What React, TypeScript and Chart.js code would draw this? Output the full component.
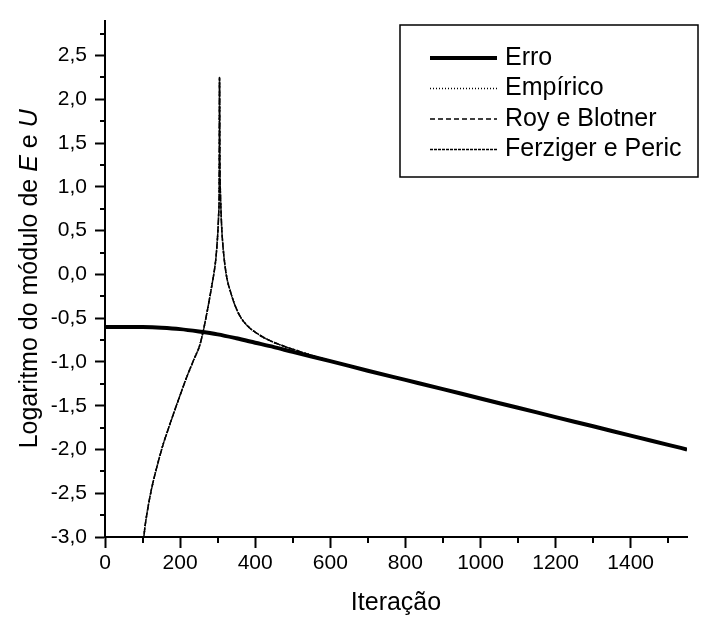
import React, { useEffect, useRef } from "react";
import { Chart, registerables } from "chart.js";

Chart.register(...registerables);

// ---------- data ----------
const erroX = [0, 50, 100, 150, 200, 250, 300, 350, 400, 450, 500, 600, 700, 800, 900, 1000, 1100, 1200, 1300, 1400, 1500, 1550];
const erroY = [-0.6, -0.6, -0.602, -0.61, -0.625, -0.652, -0.685, -0.73, -0.78, -0.83, -0.885, -0.99, -1.1, -1.205, -1.31, -1.418, -1.523, -1.63, -1.735, -1.842, -1.947, -2.0];

const estX = [100, 106, 115, 124, 140, 155, 169, 185, 200, 218, 235, 253, 262, 270, 277, 284, 290, 295, 298, 301, 303, 304, 305, 306, 307, 309, 311, 314, 319, 325, 333, 345, 360, 380, 400, 431, 470, 511, 550, 600, 650, 700, 800, 900, 1000, 1100, 1200, 1300, 1400, 1500, 1550];
const empiricoY = [-3.15, -2.9, -2.65, -2.45, -2.17, -1.94, -1.76, -1.56, -1.38, -1.17, -0.99, -0.8, -0.64, -0.47, -0.31, -0.14, 0.01, 0.17, 0.32, 0.52, 0.72, 0.9, 2.25, 1.3, 1.0, 0.72, 0.52, 0.33, 0.12, -0.05, -0.18, -0.34, -0.48, -0.59, -0.66, -0.74, -0.81, -0.87, -0.925, -0.985, -1.045, -1.1, -1.205, -1.31, -1.418, -1.523, -1.63, -1.735, -1.842, -1.947, -2.0];
const royY = [-3.15, -2.9, -2.65, -2.45, -2.17, -1.94, -1.76, -1.56, -1.38, -1.17, -0.99, -0.8, -0.64, -0.47, -0.31, -0.14, 0.01, 0.17, 0.32, 0.52, 0.72, 0.9, 2.25, 1.3, 1.0, 0.72, 0.52, 0.33, 0.12, -0.05, -0.18, -0.34, -0.48, -0.59, -0.66, -0.74, -0.81, -0.87, -0.925, -0.985, -1.045, -1.1, -1.205, -1.31, -1.418, -1.523, -1.63, -1.735, -1.842, -1.947, -2.0];
const ferzigerY = [-3.15, -2.9, -2.65, -2.45, -2.17, -1.94, -1.76, -1.56, -1.38, -1.17, -0.99, -0.8, -0.64, -0.47, -0.31, -0.14, 0.01, 0.17, 0.32, 0.52, 0.72, 0.9, 2.25, 1.3, 1.0, 0.72, 0.52, 0.33, 0.12, -0.05, -0.18, -0.34, -0.48, -0.59, -0.66, -0.74, -0.81, -0.87, -0.925, -0.985, -1.045, -1.1, -1.205, -1.31, -1.418, -1.523, -1.63, -1.735, -1.842, -1.947, -2.0];

const seriesLabels = ["Erro", "Empírico", "Roy e Blotner", "Ferziger e Peric"];

const xTicks = [0, 200, 400, 600, 800, 1000, 1200, 1400];
const xMinorTicks = [100, 300, 500, 700, 900, 1100, 1300, 1500];
const yTicks = [-3.0, -2.5, -2.0, -1.5, -1.0, -0.5, 0.0, 0.5, 1.0, 1.5, 2.0, 2.5];
const yMinorTicks = [-2.75, -2.25, -1.75, -1.25, -0.75, -0.25, 0.25, 0.75, 1.25, 1.75, 2.25, 2.75];

const xMin = 0;
const xMax = 1550;
const yMin = -3.0;
const yMax = 2.9;

const FONT = "'Liberation Sans', Arial, sans-serif";

const toPts = (xs: number[], ys: number[]) => xs.map((x, i) => ({ x, y: ys[i] }));

const minorTickPlugin = {
  id: "minorTicks",
  afterDraw(chart: any) {
    const ctx = chart.ctx;
    const xs = chart.scales.x;
    const ys = chart.scales.y;
    ctx.save();
    ctx.strokeStyle = "#000";
    ctx.lineWidth = 2;
    ctx.beginPath();
    xMinorTicks.forEach((v) => {
      const px = Math.round(xs.getPixelForValue(v));
      ctx.moveTo(px, xs.top);
      ctx.lineTo(px, xs.top + 6);
    });
    yMinorTicks.forEach((v) => {
      const py = Math.round(ys.getPixelForValue(v));
      ctx.moveTo(ys.right, py);
      ctx.lineTo(ys.right - 5, py);
    });
    ctx.stroke();
    ctx.restore();
  },
};

const titlePlugin = {
  id: "axisTitles",
  afterDraw(chart: any) {
    const ctx = chart.ctx;
    const area = chart.chartArea;
    ctx.save();
    ctx.fillStyle = "#000";
    ctx.textBaseline = "middle";
    // x title
    ctx.font = `25px ${FONT}`;
    ctx.textAlign = "center";
    ctx.fillText("Iteração", (area.left + area.right) / 2, 603);
    // y title with italic parts
    const parts = [
      { t: "Logaritmo do módulo de ", it: false },
      { t: "E", it: true },
      { t: " e ", it: false },
      { t: "U", it: true },
    ];
    const fontFor = (it: boolean) => `${it ? "italic " : ""}25px ${FONT}`;
    let total = 0;
    parts.forEach((p) => {
      ctx.font = fontFor(p.it);
      total += ctx.measureText(p.t).width;
    });
    ctx.translate(30, (area.top + area.bottom) / 2);
    ctx.rotate(-Math.PI / 2);
    ctx.textAlign = "left";
    let x = -total / 2;
    parts.forEach((p) => {
      ctx.font = fontFor(p.it);
      ctx.fillText(p.t, x, 0);
      x += ctx.measureText(p.t).width;
    });
    ctx.restore();
  },
};

const legendPlugin = {
  id: "boxLegend",
  afterDraw(chart: any) {
    const ctx = chart.ctx;
    const bx = 400, by = 25, bw = 298, bh = 152;
    ctx.save();
    ctx.fillStyle = "#fff";
    ctx.fillRect(bx, by, bw, bh);
    ctx.strokeStyle = "#000";
    ctx.lineWidth = 1.5;
    ctx.strokeRect(bx, by, bw, bh);
    ctx.font = `25px ${FONT}`;
    ctx.textBaseline = "middle";
    ctx.textAlign = "left";
    chart.data.datasets.forEach((ds: any, i: number) => {
      const cy = by + 33 + i * 30.5;
      ctx.beginPath();
      ctx.strokeStyle = "#000";
      ctx.lineWidth = ds.borderWidth;
      ctx.setLineDash(ds.borderDash || []);
      ctx.moveTo(430, cy);
      ctx.lineTo(497, cy);
      ctx.stroke();
      ctx.setLineDash([]);
      ctx.fillStyle = "#000";
      ctx.fillText(ds.label, 505, cy);
    });
    ctx.restore();
  },
};

export default function App() {
  const canvasRef = useRef<HTMLCanvasElement | null>(null);

  useEffect(() => {
    const canvas = canvasRef.current;
    if (!canvas) return;
    const common = { borderColor: "#000", pointRadius: 0, fill: false, cubicInterpolationMode: "monotone" as const };
    const chart = new Chart(canvas, {
      type: "line",
      data: {
        datasets: [
          { ...common, label: seriesLabels[0], data: toPts(erroX, erroY), borderWidth: 4 },
          { ...common, label: seriesLabels[1], data: toPts(estX, empiricoY), borderWidth: 1.5, borderDash: [1, 2] },
          { ...common, label: seriesLabels[2], data: toPts(estX, royY), borderWidth: 1.5, borderDash: [5, 3] },
          { ...common, label: seriesLabels[3], data: toPts(estX, ferzigerY), borderWidth: 1.5, borderDash: [3, 1] },
        ],
      },
      options: {
        responsive: false,
        animation: false,
        devicePixelRatio: 1,
        layout: { padding: { top: 10, right: 20, left: 0, bottom: 0 } },
        plugins: { legend: { display: false }, tooltip: { enabled: false }, title: { display: false } },
        scales: {
          x: {
            type: "linear",
            min: xMin,
            max: xMax,
            afterBuildTicks: (s: any) => { s.ticks = xTicks.map((v) => ({ value: v })); },
            afterFit: (s: any) => { s.height = 87; },
            grid: { drawOnChartArea: false, drawTicks: true, tickLength: 11, tickWidth: 2, tickColor: "#000" },
            border: { display: true, color: "#000", width: 2 },
            ticks: { color: "#000", font: { family: FONT, size: 21 }, padding: 3, maxRotation: 0, autoSkip: false, callback: (v: any) => String(v) },
          },
          y: {
            type: "linear",
            min: yMin,
            max: yMax,
            afterBuildTicks: (s: any) => { s.ticks = yTicks.map((v) => ({ value: v })); },
            afterFit: (s: any) => { s.width = 105; },
            grid: { drawOnChartArea: false, drawTicks: true, tickLength: 10, tickWidth: 2, tickColor: "#000" },
            border: { display: true, color: "#000", width: 2 },
            ticks: { color: "#000", font: { family: FONT, size: 21 }, padding: 8, autoSkip: false, callback: (v: any) => Number(v).toFixed(1).replace(".", ",") },
          },
        },
      },
      plugins: [minorTickPlugin, titlePlugin, legendPlugin],
    });
    return () => chart.destroy();
  }, []);

  return (
    <div style={{ position: "fixed", left: 0, top: 0, width: 707, height: 624, background: "#fff" }}>
      <canvas ref={canvasRef} width={707} height={624} style={{ width: 707, height: 624 }} />
    </div>
  );
}
